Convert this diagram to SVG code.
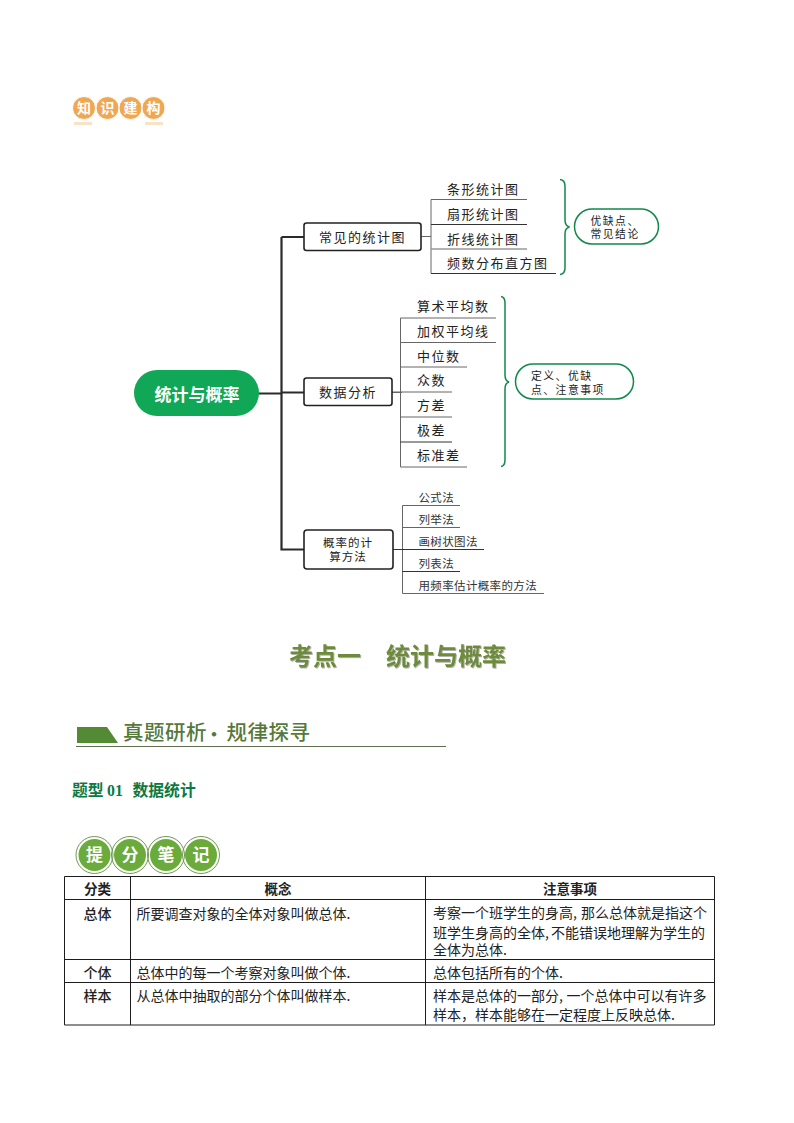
<svg xmlns="http://www.w3.org/2000/svg" width="794" height="1123" viewBox="0 0 794 1123">
<defs>
<filter id="soft" x="-5%" y="-20%" width="110%" height="140%"><feDropShadow dx="1" dy="1" stdDeviation="0.6" flood-color="#555" flood-opacity="0.45"/></filter>
</defs>
<style>
text{font-family:"Noto Sans CJK SC","Liberation Sans",sans-serif;fill:#222}
.box{fill:#fff;stroke:#222;stroke-width:1.6}
.oval{fill:#fff;stroke:#12884a;stroke-width:1.5}
.trunk{fill:none;stroke:#2b2b2b;stroke-width:2.2}
.thin{fill:none;stroke:#333;stroke-width:1}
.gray{fill:none;stroke:#666;stroke-width:1}
.pale{fill:none;stroke:#999;stroke-width:1.4}
.brace{fill:none;stroke:#12884a;stroke-width:1.5}
.t13{font-size:13px;letter-spacing:1.5px}
.t11{font-size:11.5px;letter-spacing:.35px;fill:#333}
.note{font-size:10.8px;letter-spacing:1.5px}
.cell{font-size:14px}
.hd{font-size:13.5px;font-weight:700;text-anchor:middle}
.rowh{font-size:14px;font-weight:500;text-anchor:middle}
.grid{fill:none;stroke:#1c1c1c;stroke-width:1}
.cw{font-weight:700;text-anchor:middle}
.b1 text{font-size:14px;fill:#fff}
.b2 text{font-size:17px;fill:#fff}
</style>

<g id="badge-zhishijiangou" class="b1">
<rect x="74" y="122" width="18" height="3" fill="#f9e3c6"/>
<rect x="145" y="122" width="18" height="3" fill="#f9e3c6"/>
<g fill="#f0a752" stroke="#fff" stroke-width="1">
<circle cx="84" cy="108" r="11.5"/><circle cx="107.500" cy="108" r="11.5"/><circle cx="130.500" cy="108" r="11.5"/><circle cx="153.500" cy="108" r="11.5"/>
</g>
<text class="cw" x="84" y="113">知</text>
<text class="cw" x="107.500" y="113">识</text>
<text class="cw" x="130.500" y="113">建</text>
<text class="cw" x="153.500" y="113">构</text>
</g>

<g id="connectors">
<path class="trunk" d="M258 393.500H281.500M281.500 237H304M281.500 237V549.500H304M281.500 392.500H304"/>
<path class="gray" d="M421 236.500H431M431 199.500V273.500M431 199.500H527"/>
<path class="thin" d="M431 224.500H527M431 273.500H556"/>
<path class="pale" d="M431 249H527"/>
<path class="gray" d="M392 392.500H402M400.500 318V467M400.500 318H496M400.500 342.500H496M400.500 367H467M392 392H452M400.500 417H452M400.500 467H467"/>
<path class="thin" d="M400.500 442H452"/>
<path class="gray" d="M402.500 505.500V593.500M402.500 505.500H460M402.500 527.500H460M402.500 593.500H544"/>
<path class="thin" d="M392 549.500H484M402.500 571.500H460"/>
<path class="brace" d="M560 179.500Q565 180 565 186V220Q565 226 569.500 227Q565 228 565 234V268Q565 274 560 274.500"/>
<path class="brace" d="M501 296.500Q505 297 505 303V375Q505 381 509 382Q505 383 505 389V460Q505 466 501 466.500"/>
</g>

<g id="root"><rect x="134" y="370" width="125" height="46" rx="23" fill="#10a856"/><text x="197" y="400.500" text-anchor="middle" style="font-size:17px;font-weight:700;fill:#fff">统计与概率</text></g>

<g id="node-charts"><rect class="box" x="304" y="223" width="117" height="27.500" rx="2.500"/><text class="t13" x="319" y="241.500">常见的统计图</text></g>
<g id="node-data"><rect class="box" x="304" y="378" width="88" height="27.500" rx="2.500"/><text class="t13" x="319" y="396.500">数据分析</text></g>
<g id="node-prob"><rect class="box" x="304" y="530" width="89" height="39" rx="3"/><text x="348" y="547" text-anchor="middle" style="font-size:11.500px;letter-spacing:1px">概率的计</text><text x="348" y="561" text-anchor="middle" style="font-size:11.500px;letter-spacing:1px">算方法</text></g>

<g id="leaf-bar"><text class="t13" x="447" y="194">条形统计图</text></g>
<g id="leaf-fan"><text class="t13" x="447" y="219">扇形统计图</text></g>
<g id="leaf-line"><text class="t13" x="447" y="243.500">折线统计图</text></g>
<g id="leaf-hist"><text class="t13" x="447" y="268">频数分布直方图</text></g>

<g id="leaf-mean"><text class="t13" x="417" y="311">算术平均数</text></g>
<g id="leaf-wmean"><text class="t13" x="417" y="336">加权平均线</text></g>
<g id="leaf-median"><text class="t13" x="417" y="360.500">中位数</text></g>
<g id="leaf-mode"><text class="t13" x="417" y="385">众数</text></g>
<g id="leaf-var"><text class="t13" x="417" y="410">方差</text></g>
<g id="leaf-range"><text class="t13" x="417" y="435">极差</text></g>
<g id="leaf-std"><text class="t13" x="417" y="459.500">标准差</text></g>

<g id="leaf-formula"><text class="t11" x="418.500" y="501.500">公式法</text></g>
<g id="leaf-enum"><text class="t11" x="418.500" y="523.500">列举法</text></g>
<g id="leaf-tree"><text class="t11" x="418.500" y="545.500">画树状图法</text></g>
<g id="leaf-table"><text class="t11" x="418.500" y="567.500">列表法</text></g>
<g id="leaf-freq"><text class="t11" x="418.500" y="589.500">用频率估计概率的方法</text></g>

<g id="note-charts"><rect class="oval" x="574.500" y="209" width="84" height="35" rx="17.500"/><text class="note" x="590.500" y="225">优缺点、</text><text class="note" x="590.500" y="238">常见结论</text></g>
<g id="note-data"><rect class="oval" x="515.500" y="364" width="118" height="35" rx="17.500"/><text class="note" x="531" y="380">定义、优缺</text><text class="note" x="531" y="393.500">点、注意事项</text></g>

<g id="heading"><text x="289" y="665" filter="url(#soft)" style="font-size:24px;font-weight:700;fill:#6d8b3a">考点一</text><text x="386" y="665" filter="url(#soft)" style="font-size:24px;font-weight:700;fill:#6d8b3a">统计与概率</text></g>

<g id="banner">
<polygon points="77,727 107,727 118,743 77,743" fill="#558a35"/>
<text x="123" y="740" style="font-size:20.500px;font-weight:500;fill:#55793a;letter-spacing:.5px">真题研析<tspan x="206" style="font-size:16px;font-weight:900;letter-spacing:0">·</tspan><tspan x="226.500">规律探寻</tspan></text>
<line x1="76" y1="746.500" x2="446" y2="746.500" stroke="#5f6f4f" stroke-width="1"/>
</g>

<g id="subhead"><text x="72" y="796" style="font-size:15.800px;font-weight:700;fill:#0b7a42">题型<tspan x="107" style="font-family:'Liberation Serif',serif">01</tspan><tspan x="132.500">数据统计</tspan></text></g>

<g id="badge-tifenbiji" class="b2">
<g fill="#6bab3c" stroke="#fff" stroke-width="2">
<circle cx="94.500" cy="855" r="17"/><circle cx="130" cy="855" r="17"/><circle cx="166" cy="855" r="17"/><circle cx="201" cy="855" r="17"/>
</g>
<g fill="none" stroke="#6f9a50" stroke-width="1">
<circle cx="94.500" cy="855" r="18.500"/><circle cx="130" cy="855" r="18.500"/><circle cx="166" cy="855" r="18.500"/><circle cx="201" cy="855" r="18.500"/>
</g>
<text class="cw" x="94.500" y="861">提</text>
<text class="cw" x="130" y="861">分</text>
<text class="cw" x="166" y="861">笔</text>
<text class="cw" x="201" y="861">记</text>
</g>

<g id="table">
<path class="grid" d="M64.500 876.500H714.500V1025H64.500ZM64.500 899.500H714.500M64.500 959.500H714.500M64.500 982.500H714.500M130.500 876.500V1025M425.500 876.500V1025"/>
<text class="hd" x="97.500" y="893.500">分类</text>
<text class="hd" x="278" y="893.500">概念</text>
<text class="hd" x="570" y="893.500">注意事项</text>
<text class="rowh" x="97.500" y="919">总体</text>
<text class="cell" x="136.500" y="919">所要调查对象的全体对象叫做总体.</text>
<text class="cell" x="433" y="918">考察一个班学生的身高,<tspan x="581">那么总体就是指这个</tspan></text>
<text class="cell" x="433" y="937.500">班学生身高的全体,<tspan x="551">不能错误地理解为学生的</tspan></text>
<text class="cell" x="433" y="954.500">全体为总体.</text>
<text class="rowh" x="97.500" y="978">个体</text>
<text class="cell" x="136.500" y="978">总体中的每一个考察对象叫做个体.</text>
<text class="cell" x="433" y="978">总体包括所有的个体.</text>
<text class="rowh" x="97.500" y="1001">样本</text>
<text class="cell" x="136.500" y="1001">从总体中抽取的部分个体叫做样本.</text>
<text class="cell" x="433" y="1001">样本是总体的一部分,<tspan x="566.500">一个总体中可以有许多</tspan></text>
<text class="cell" x="433" y="1020">样本，样本能够在一定程度上反映总体.</text>
</g>
</svg>
